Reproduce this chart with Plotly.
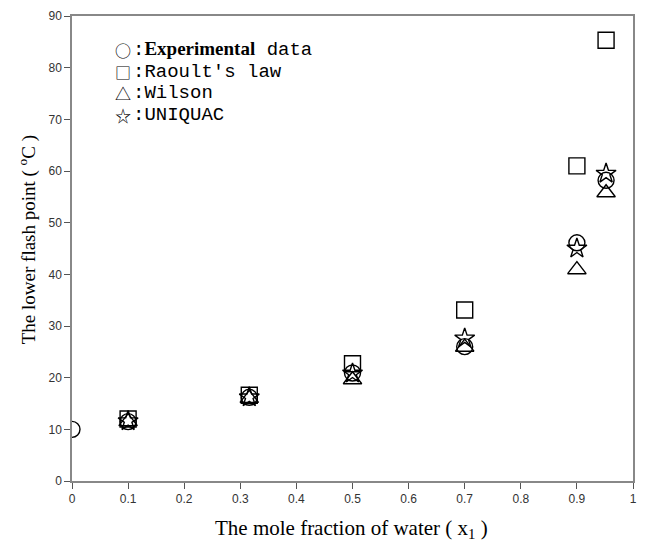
import plotly.graph_objects as go

x_exp = [0.0, 0.1, 0.316, 0.5, 0.7, 0.9, 0.952]
y_exp = [10.0, 11.5, 16.2, 20.9, 26.0, 46.1, 58.2]

x_model = [0.1, 0.316, 0.5, 0.7, 0.9, 0.952]
y_raoult = [12.0, 16.6, 22.7, 33.1, 61.0, 85.3]
y_wilson = [11.5, 16.0, 19.6, 25.9, 40.9, 55.8]
y_uniquac = [11.6, 16.2, 20.8, 27.6, 45.0, 59.5]

x_ticks = [0, 0.1, 0.2, 0.3, 0.4, 0.5, 0.6, 0.7, 0.8, 0.9, 1]
x_tick_text = ["0", "0.1", "0.2", "0.3", "0.4", "0.5", "0.6", "0.7", "0.8", "0.9", "1"]
y_ticks = [0, 10, 20, 30, 40, 50, 60, 70, 80, 90]

legend_symbols = ["○", "□", "△", "☆"]
legend_labels = [
    "<span style=\"font-family:'Liberation Serif'\"><b>Experimental</b></span> data",
    "Raoult's law", "Wilson", "UNIQUAC"]

fig = go.Figure()
mk = dict(color="black", size=16, line=dict(color="black", width=1.4))
fig.add_trace(go.Scatter(x=x_model, y=y_raoult, mode="markers", marker=dict(symbol="square-open", **mk)))
fig.add_trace(go.Scatter(x=x_model, y=y_wilson, mode="markers", marker=dict(symbol="triangle-up-open", **mk)))
fig.add_trace(go.Scatter(x=x_exp, y=y_exp, mode="markers", marker=dict(symbol="circle-open", **mk)))
fig.add_trace(go.Scatter(x=x_model, y=y_uniquac, mode="markers", marker=dict(symbol="star-open", **{**mk, "size": 15})))

annots = []
for i, (s, t) in enumerate(zip(legend_symbols, legend_labels)):
    yp = 0.927 - i * 0.0465
    annots.append(dict(xref="paper", yref="paper", x=0.073, y=yp, xanchor="left", yanchor="middle",
                       text=s, showarrow=False, font=dict(family="Noto Sans CJK SC", size=16, color="black")))
    annots.append(dict(xref="paper", yref="paper", x=0.106, y=yp, xanchor="left", yanchor="middle",
                       text=":" + t, showarrow=False,
                       font=dict(family="Liberation Mono", size=19, color="black")))

annots.append(dict(xref="paper", yref="paper", x=-0.08, y=0.518, xanchor="center", yanchor="middle",
                   textangle=-90, showarrow=False,
                   text="The lower flash point ( <sup>o</sup>C )",
                   font=dict(family="Liberation Serif", size=19, color="black")))
annots.append(dict(xref="paper", yref="paper", x=0.499, y=-0.103, xanchor="center", yanchor="middle",
                   showarrow=False,
                   text="The mole fraction of water ( x<sub>1</sub> )",
                   font=dict(family="Liberation Serif", size=21, color="black")))

fig.update_layout(
    width=645, height=544,
    margin=dict(l=72, r=12, t=16, b=63, autoexpand=False),
    paper_bgcolor="white", plot_bgcolor="white",
    showlegend=False,
    annotations=annots,
    xaxis=dict(range=[0, 1], tickvals=x_ticks, ticktext=x_tick_text, ticks="outside", ticklen=6,
               tickcolor="#555", showline=True, linecolor="#888", linewidth=1.5, mirror=True,
               showgrid=False, zeroline=False,
               tickfont=dict(family="Liberation Sans", size=12, color="#333")),
    yaxis=dict(range=[0, 90], tickvals=y_ticks, ticks="outside", ticklen=6,
               tickcolor="#555", showline=True, linecolor="#888", linewidth=1.5, mirror=True,
               showgrid=False, zeroline=False,
               tickfont=dict(family="Liberation Sans", size=12, color="#333")),
)

fig.write_html("out.html", config={"displayModeBar": False},
               post_script="document.body.style.margin='0';document.body.style.overflow='hidden';")
